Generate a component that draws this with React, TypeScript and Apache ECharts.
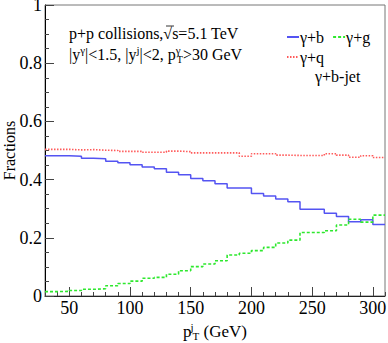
import React, { useEffect, useRef } from 'react';
import * as echarts from 'echarts';

// Bin edges in p_T^j (GeV)
const binEdges = [30, 40, 50, 60, 70, 80, 90, 100, 110, 120, 130, 140, 150, 160, 170, 180, 190, 200, 210, 220, 230, 240, 250, 260, 270, 280, 290, 300, 310];

// Fractions per bin
const gammaB = [0.482, 0.482, 0.480, 0.473, 0.472, 0.463, 0.458, 0.451, 0.443, 0.437, 0.425, 0.417, 0.404, 0.396, 0.386, 0.371, 0.371, 0.352, 0.344, 0.333, 0.324, 0.298, 0.298, 0.284, 0.273, 0.255, 0.262, 0.246];
const gammaG = [0.015, 0.016, 0.019, 0.023, 0.025, 0.035, 0.043, 0.051, 0.061, 0.064, 0.075, 0.087, 0.101, 0.110, 0.121, 0.141, 0.147, 0.156, 0.167, 0.182, 0.192, 0.218, 0.218, 0.224, 0.244, 0.264, 0.254, 0.278];
const gammaQ = [0.504, 0.504, 0.502, 0.503, 0.501, 0.500, 0.497, 0.497, 0.494, 0.494, 0.498, 0.496, 0.492, 0.492, 0.492, 0.492, 0.480, 0.489, 0.489, 0.484, 0.483, 0.483, 0.483, 0.489, 0.484, 0.477, 0.482, 0.476];

const seriesNames = ['γ+b', 'γ+g', 'γ+q'];
const xTickValues = [50, 100, 150, 200, 250, 300];

const FONT = "'Liberation Serif', 'Times New Roman', serif";

function toStep(values: number[]): number[][] {
  const pts = values.map((v, i) => [binEdges[i], v]);
  pts.push([binEdges[values.length], values[values.length - 1]]);
  return pts;
}

export default function App() {
  const ref = useRef<HTMLDivElement>(null);

  useEffect(() => {
    if (!ref.current) return;
    const chart = echarts.init(ref.current, undefined, { renderer: 'svg' });

    const gridBox = { left: 45, top: 5, width: 340, height: 291 };
    const legendText = { fontFamily: FONT, fontSize: 16, color: '#000', padding: [0, 0, 0, -4] };

    const option: any = {
      animation: false,
      textStyle: { fontFamily: FONT },
      grid: [
        { ...gridBox, show: true, borderColor: '#777', borderWidth: 1, backgroundColor: 'transparent', containLabel: false, outerBoundsMode: 'none' },
        { ...gridBox, show: false, containLabel: false, outerBoundsMode: 'none' },
      ],
      xAxis: [
        {
          gridIndex: 0,
          type: 'value',
          min: 30,
          max: 310,
          interval: 10,
          axisLine: { show: true, lineStyle: { color: '#222', width: 1 } },
          axisTick: { show: true, inside: true, length: 9, customValues: xTickValues, lineStyle: { color: '#444', width: 1 } },
          axisLabel: { customValues: xTickValues, fontSize: 18, color: '#000', margin: 3, fontFamily: FONT },
          splitLine: { show: false },
          name: '{n|p}{supz|j}{sub|T}{n| (GeV)}',
          nameLocation: 'middle',
          nameGap: 25,
          nameMoveOverlap: false,
          nameTextStyle: {
            fontFamily: FONT,
            color: '#000',
            rich: {
              n: { fontSize: 17, fontFamily: FONT, color: '#000', lineHeight: 20, verticalAlign: 'middle' },
              supz: { fontSize: 11, fontFamily: FONT, color: '#000', lineHeight: 20, verticalAlign: 'top', width: 1 },
              sub: { fontSize: 11, fontFamily: FONT, color: '#000', lineHeight: 20, verticalAlign: 'bottom' },
            },
          },
        },
        {
          gridIndex: 1,
          type: 'value',
          min: 30,
          max: 310,
          interval: 10,
          axisLine: { show: false },
          axisTick: { show: true, inside: true, length: 4, lineStyle: { color: '#444', width: 1 } },
          axisLabel: { show: false },
          splitLine: { show: false },
        },
      ],
      yAxis: [
        {
          gridIndex: 0,
          type: 'value',
          min: 0,
          max: 1,
          interval: 0.2,
          axisLine: { show: true, lineStyle: { color: '#000', width: 1 } },
          axisTick: { show: true, inside: true, length: 9, lineStyle: { color: '#444' } },
          minorTick: { show: true, splitNumber: 4, length: 4, lineStyle: { color: '#444' } },
          axisLabel: {
            fontSize: 18,
            color: '#000',
            margin: 3,
            fontFamily: FONT,
            formatter: (v: number) => (v === 0 ? '0' : v === 1 ? '1' : v.toFixed(1)),
          },
          splitLine: { show: false },
          minorSplitLine: { show: false },
          name: 'Fractions',
          nameLocation: 'middle',
          nameGap: 28,
          nameRotate: 90,
          nameMoveOverlap: false,
          nameTextStyle: { fontFamily: FONT, fontSize: 16, color: '#000' },
        },
        { gridIndex: 1, type: 'value', min: 0, max: 1, show: false },
      ],
      legend: [
        {
          data: [seriesNames[0], seriesNames[1]],
          left: 281,
          top: 24,
          itemWidth: 12,
          itemHeight: 10,
          itemGap: 8,
          itemStyle: { opacity: 0 },
          textStyle: legendText,
        },
        {
          data: [seriesNames[2]],
          left: 281,
          top: 44,
          itemWidth: 12,
          itemHeight: 10,
          itemStyle: { opacity: 0 },
          textStyle: legendText,
        },
      ],
      series: [
        {
          name: seriesNames[2],
          type: 'line',
          xAxisIndex: 0,
          yAxisIndex: 0,
          step: 'end',
          symbol: 'none',
          data: toStep(gammaQ),
          lineStyle: { color: '#ff5a5a', width: 1.6, type: [1.5, 1.5] },
          itemStyle: { color: '#ff5a5a' },
        },
        {
          name: seriesNames[0],
          type: 'line',
          xAxisIndex: 0,
          yAxisIndex: 0,
          step: 'end',
          symbol: 'none',
          data: toStep(gammaB),
          lineStyle: { color: '#5454f2', width: 1.5, type: 'solid' },
          itemStyle: { color: '#5454f2' },
        },
        {
          name: seriesNames[1],
          type: 'line',
          xAxisIndex: 0,
          yAxisIndex: 0,
          step: 'end',
          symbol: 'none',
          data: toStep(gammaG),
          lineStyle: { color: '#2ee82e', width: 1.6, type: [3, 2] },
          itemStyle: { color: '#2ee82e' },
        },
      ],
      graphic: [
        {
          type: 'text',
          x: 69,
          y: 33,
          style: {
            text: 'p+p collisions,√s=5.1 TeV',
            font: `16px ${FONT}`,
            fill: '#000',
            align: 'left',
            verticalAlign: 'middle',
          },
        },
        {
          type: 'line',
          shape: { x1: 166, y1: 26, x2: 174, y2: 26 },
          style: { stroke: '#000', lineWidth: 0.8 },
        },
        {
          type: 'text',
          x: 69,
          y: 54,
          style: {
            text: '{n||y}{sup|γ}{n||<1.5, |y}{sup|j}{n||<2, p}{supz|γ}{sub|T}{n|>30 GeV}',
            align: 'left',
            verticalAlign: 'middle',
            fill: '#000',
            rich: {
              n: { fontSize: 16, fontFamily: FONT, fill: '#000', lineHeight: 20, verticalAlign: 'middle' },
              sup: { fontSize: 11, fontFamily: FONT, fill: '#000', lineHeight: 20, verticalAlign: 'top' },
              supz: { fontSize: 11, fontFamily: FONT, fill: '#000', lineHeight: 20, verticalAlign: 'top', width: 1 },
              sub: { fontSize: 10, fontFamily: FONT, fill: '#000', lineHeight: 20, verticalAlign: 'bottom' },
            },
          },
        },
        {
          type: 'text',
          left: 315,
          top: 68,
          style: {
            text: 'γ+b-jet',
            font: `16px ${FONT}`,
            fill: '#000',
          },
        },
      ],
    };

    chart.setOption(option);
    return () => {
      chart.dispose();
    };
  }, []);

  return (
    <div
      ref={ref}
      style={{ position: 'fixed', left: 0, top: 0, width: 388, height: 343, background: '#fff' }}
    />
  );
}
